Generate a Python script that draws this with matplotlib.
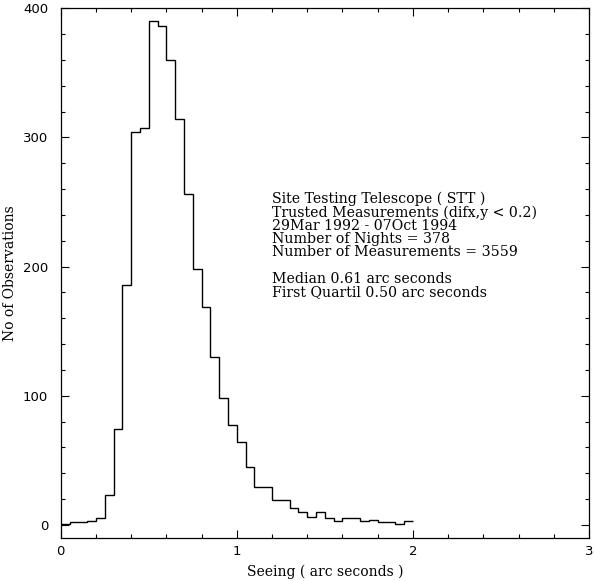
import matplotlib
matplotlib.use("Agg")
import matplotlib.pyplot as plt
import numpy as np

# bin edges of the seeing histogram (arc seconds)
bin_edges = np.arange(0.0, 2.0001, 0.05)

# counts per 0.05 arcsec bin
counts = [1, 2, 2, 3, 5, 23, 74, 186, 304, 307,
          390, 386, 360, 314, 256, 198, 169, 130, 98, 77,
          64, 45, 29, 29, 19, 19, 13, 10, 6, 10,
          5, 3, 5, 5, 3, 4, 2, 2, 1, 3]

info_lines = [
    "Site Testing Telescope ( STT )",
    "Trusted Measurements (difx,y < 0.2)",
    "29Mar 1992 - 07Oct 1994",
    "Number of Nights = 378",
    "Number of Measurements = 3559",
    "",
    "Median 0.61 arc seconds",
    "First Quartil 0.50 arc seconds",
]

serif = "DejaVu Serif"

fig = plt.figure(figsize=(5.94, 5.81), dpi=100)
ax = fig.add_axes([0.1022, 0.0745, 0.8894, 0.9112])

ax.stairs(counts, bin_edges, color="black", linewidth=1.0, baseline=None)

ax.set_xlim(0, 3)
ax.set_ylim(-10, 400)
ax.set_xticks([0, 1, 2, 3])
ax.set_xticks(np.arange(0, 3.01, 0.2), minor=True)
ax.set_yticks([0, 100, 200, 300, 400])
ax.set_yticks(np.arange(0, 401, 20), minor=True)

ax.tick_params(which="both", direction="in", top=True, right=True,
               width=0.8, colors="black")
ax.tick_params(which="major", length=6, labelsize=9.5, pad=5)
ax.tick_params(which="minor", length=3)
ax.tick_params(axis="y", which="major", pad=9)
for lab in ax.get_xticklabels() + ax.get_yticklabels():
    lab.set_family("DejaVu Sans")

for sp in ax.spines.values():
    sp.set_linewidth(0.9)

ax.set_xlabel("Seeing ( arc seconds )", family=serif, fontsize=10, labelpad=5)
ax.set_ylabel("No of Observations", family=serif, fontsize=10)
ax.yaxis.set_label_coords(-0.083, 0.5)

ax.text(1.2025, 258, "\n".join(info_lines), family=serif, fontsize=10.2,
        va="top", ha="left", linespacing=0.93)

fig.savefig("out.png", dpi=100)
